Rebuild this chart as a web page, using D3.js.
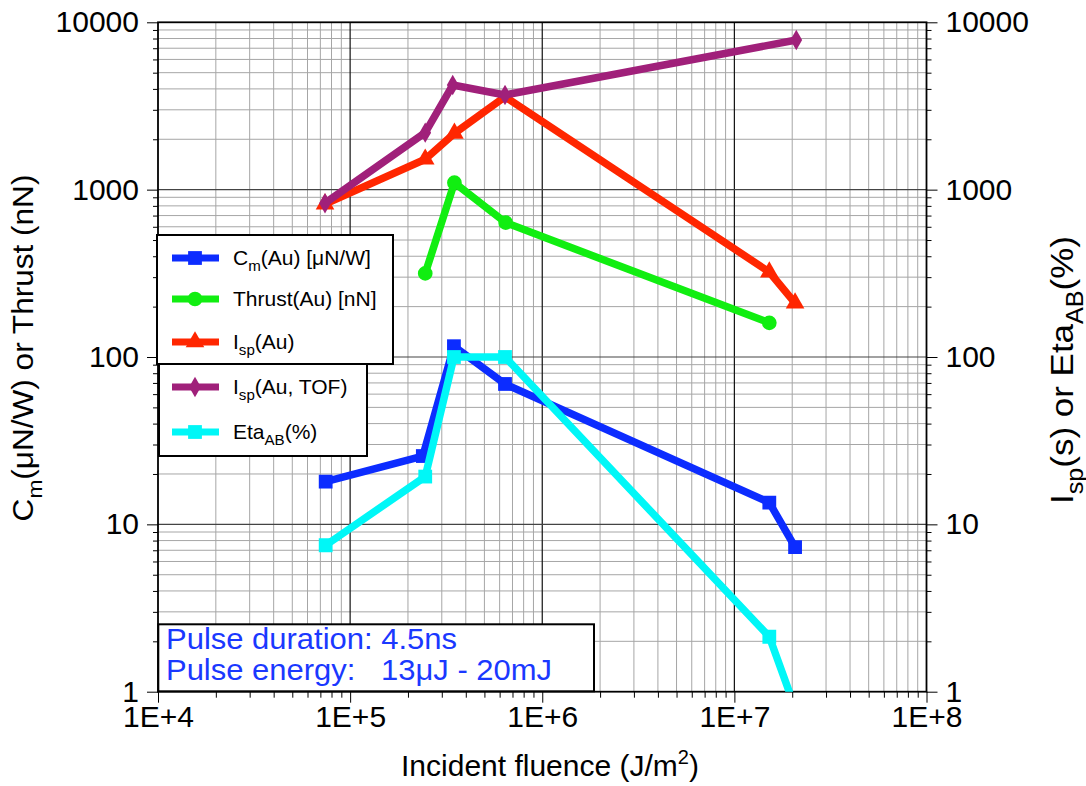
<!DOCTYPE html>
<html>
<head>
<meta charset="utf-8">
<script src="https://cdn.jsdelivr.net/npm/d3@7"></script>
<style>
  body { margin: 0; background: #fff; }
  text { font-family: "Liberation Sans", Arial, Helvetica, sans-serif; }
</style>
</head>
<body>
<script>
// Values (fluence in J/m^2)
var fluenceCm = [7.46e4, 2.39e5, 3.47e5, 6.4e5, 1.52e7, 2.07e7];
var cmValues = [18.0, 25.6, 116, 69, 13.5, 7.3];
var fluenceThrust = [2.46e5, 3.49e5, 6.45e5, 1.52e7];
var thrustValues = [316, 1100, 635, 160];
var fluenceIsp = [7.4e4, 2.46e5, 3.49e5, 6.4e5, 1.52e7, 2.07e7];
var ispValues = [820, 1520, 2170, 3590, 322, 210];
var fluenceTof = [7.4e4, 2.46e5, 3.42e5, 6.4e5, 2.1e7];
var tofValues = [830, 2190, 4220, 3680, 7840];
var fluenceEta = [7.46e4, 2.46e5, 3.47e5, 6.4e5, 1.52e7, 2.07e7];
var etaValues = [7.5, 19.3, 100, 100, 2.13, 0.8];

var xTicks = [1e4, 1e5, 1e6, 1e7, 1e8];
var xTickLabels = ["1E+4", "1E+5", "1E+6", "1E+7", "1E+8"];
var yTicks = [1, 10, 100, 1000, 10000];
var yTickLabels = ["1", "10", "100", "1000", "10000"];

var W = 1086, H = 786;
var pLeft = 158, pRight = 926.5, pTop = 22.3, pBottom = 691.7;

var svg = d3.select("body").append("svg")
  .attr("width", W).attr("height", H);

var x = d3.scaleLog().domain([1e4, 1e8]).range([pLeft, pRight]);
var y = d3.scaleLog().domain([1, 1e4]).range([pBottom, pTop]);

// minor values 2..9 per decade
var minorX = [], minorY = [];
for (var d = 4; d < 8; d++) for (var k = 2; k < 10; k++) minorX.push(k * Math.pow(10, d));
for (var d2 = 0; d2 < 4; d2++) for (var k2 = 2; k2 < 10; k2++) minorY.push(k2 * Math.pow(10, d2));

// grid
var grid = svg.append("g");
grid.selectAll(".gx").data(minorX).enter().append("line")
  .attr("x1", x).attr("x2", x).attr("y1", pTop).attr("y2", pBottom)
  .attr("stroke", "#a6a6a6").attr("stroke-width", 1);
grid.selectAll(".gy").data(minorY).enter().append("line")
  .attr("y1", y).attr("y2", y).attr("x1", pLeft).attr("x2", pRight)
  .attr("stroke", "#a6a6a6").attr("stroke-width", 1);
grid.selectAll(".gX").data(xTicks.slice(1, -1)).enter().append("line")
  .attr("x1", x).attr("x2", x).attr("y1", pTop).attr("y2", pBottom)
  .attr("stroke", "#111").attr("stroke-width", 1.2);
grid.selectAll(".gY").data(yTicks.slice(1, -1)).enter().append("line")
  .attr("y1", y).attr("y2", y).attr("x1", pLeft).attr("x2", pRight)
  .attr("stroke", "#444").attr("stroke-width", 1.2);

// axes
var fmtX = function(v) { return xTickLabels[xTicks.indexOf(v)] || ""; };
var fmtY = function(v) { return yTickLabels[yTicks.indexOf(v)] || ""; };

function styleAxis(g) {
  g.select(".domain").remove();
  g.selectAll(".tick line").attr("stroke", "#000").attr("stroke-width", 1);
  g.selectAll(".tick text").attr("font-size", 30).attr("fill", "#000")
    .style("font-family", "'Liberation Sans', Arial, sans-serif");
}

var allX = xTicks.concat(minorX).sort(d3.ascending);
var allY = yTicks.concat(minorY).sort(d3.ascending);

var gxAxis = svg.append("g").attr("transform", "translate(0," + pBottom + ")")
  .call(d3.axisBottom(x).tickValues(allX).tickFormat(fmtX).tickSize(6).tickPadding(8));
styleAxis(gxAxis);
gxAxis.selectAll(".tick").filter(function(v) { return xTicks.indexOf(v) >= 0; })
  .select("line").attr("y2", 11);

var gyL = svg.append("g").attr("transform", "translate(" + pLeft + ",0)")
  .call(d3.axisLeft(y).tickValues(allY).tickFormat(fmtY).tickSize(5).tickPadding(14));
styleAxis(gyL);
gyL.selectAll(".tick").filter(function(v) { return yTicks.indexOf(v) >= 0; })
  .select("line").attr("x2", -11);

var gyR = svg.append("g").attr("transform", "translate(" + pRight + ",0)")
  .call(d3.axisRight(y).tickValues(allY).tickFormat(fmtY).tickSize(5).tickPadding(14));
styleAxis(gyR);
gyR.selectAll(".tick").filter(function(v) { return yTicks.indexOf(v) >= 0; })
  .select("line").attr("x2", 11);

// frame
svg.append("rect").attr("x", pLeft).attr("y", pTop)
  .attr("width", pRight - pLeft).attr("height", pBottom - pTop)
  .attr("fill", "none").attr("stroke", "#000").attr("stroke-width", 1.8);

// series
svg.append("clipPath").attr("id", "plotclip").append("rect")
  .attr("x", pLeft).attr("y", pTop).attr("width", pRight - pLeft).attr("height", pBottom - pTop);

var series = [
  { xs: fluenceCm, ys: cmValues, color: "#0c2cff", shape: "square" },
  { xs: fluenceThrust, ys: thrustValues, color: "#11ee11", shape: "circle" },
  { xs: fluenceIsp, ys: ispValues, color: "#ff2600", shape: "triangle" },
  { xs: fluenceTof, ys: tofValues, color: "#a0207a", shape: "diamond" },
  { xs: fluenceEta, ys: etaValues, color: "#00f7f7", shape: "square" }
];

var symbols = {
  square: d3.symbol().type(d3.symbolSquare).size(190),
  circle: d3.symbol().type(d3.symbolCircle).size(170),
  triangle: d3.symbol().type(d3.symbolTriangle).size(150),
  diamond: d3.symbol().type(d3.symbolDiamond).size(120)
};

var line = d3.line().x(function(p) { return x(p[0]); }).y(function(p) { return y(p[1]); });
var plot = svg.append("g").attr("clip-path", "url(#plotclip)");

series.forEach(function(s) {
  var pts = s.xs.map(function(v, i) { return [v, s.ys[i]]; });
  plot.append("path").attr("d", line(pts))
    .attr("fill", "none").attr("stroke", s.color).attr("stroke-width", 7.5)
    .attr("stroke-linejoin", "round");
  plot.selectAll(null).data(pts).enter().append("path")
    .attr("d", symbols[s.shape])
    .attr("transform", function(p) { return "translate(" + x(p[0]) + "," + y(p[1]) + ")"; })
    .attr("fill", s.color);
});

// legends
function legendBox(x0, y0, w, h) {
  svg.append("rect").attr("x", x0).attr("y", y0).attr("width", w).attr("height", h)
    .attr("fill", "#fff").attr("stroke", "#000").attr("stroke-width", 2);
}
legendBox(157, 235, 236, 129);
legendBox(159, 364, 208, 92);

var legendItems = [
  { s: 0, y: 258, parts: [["C", 0], ["m", 1], ["(Au) [\u03bcN/W]", 0]] },
  { s: 1, y: 299, parts: [["Thrust(Au) [nN]", 0]] },
  { s: 2, y: 342, parts: [["I", 0], ["sp", 1], ["(Au)", 0]] },
  { s: 3, y: 387, parts: [["I", 0], ["sp", 1], ["(Au, TOF)", 0]] },
  { s: 4, y: 432, parts: [["Eta", 0], ["AB", 1], ["(%)", 0]] }
];

function richText(t, parts, big) {
  var sub = 0;
  parts.forEach(function(p) {
    var ts = t.append("tspan").text(p[0]);
    if (p[1] === 1 && sub === 0) { ts.attr("dy", big * 0.3).attr("font-size", big * 0.72); sub = 1; }
    else if (p[1] === 0 && sub === 1) { ts.attr("dy", -big * 0.3); sub = 0; }
    else if (p[1] === 1) ts.attr("font-size", big * 0.72);
  });
}

legendItems.forEach(function(it) {
  var s = series[it.s];
  svg.append("line").attr("x1", 172).attr("x2", 219).attr("y1", it.y).attr("y2", it.y)
    .attr("stroke", s.color).attr("stroke-width", 7);
  svg.append("path").attr("d", symbols[s.shape])
    .attr("transform", "translate(195," + it.y + ")").attr("fill", s.color);
  var t = svg.append("text").attr("x", 233).attr("y", it.y + 7)
    .attr("font-size", 21).attr("fill", "#000");
  richText(t, it.parts, 21);
});

// annotation box
svg.append("rect").attr("x", 158.3).attr("y", 624.3).attr("width", 435.7).attr("height", 67)
  .attr("fill", "#fff").attr("stroke", "#000").attr("stroke-width", 2);
svg.append("text").attr("x", 166).attr("y", 649).attr("font-size", 29).attr("fill", "#1a38ff")
  .attr("textLength", 291).attr("lengthAdjust", "spacingAndGlyphs")
  .text("Pulse duration: 4.5ns");
svg.append("text").attr("x", 166).attr("y", 680).attr("font-size", 29).attr("fill", "#1a38ff")
  .attr("textLength", 386).attr("lengthAdjust", "spacingAndGlyphs")
  .attr("xml:space", "preserve").style("white-space", "pre")
  .text("Pulse energy:   13\u03bcJ - 20mJ");

// axis titles
var xt = svg.append("text").attr("x", 550).attr("y", 776).attr("text-anchor", "middle")
  .attr("font-size", 30).attr("fill", "#000");
xt.append("tspan").text("Incident fluence (J/m");
xt.append("tspan").text("2").attr("font-size", 20).attr("dy", -12);
xt.append("tspan").text(")").attr("dy", 12);

// vertical titles, squeezed or stretched along their length to the reference span
function vTitle(cx, cy, size, parts, span) {
  var g = svg.append("g");
  var t = g.append("text").attr("text-anchor", "middle").attr("font-size", size).attr("fill", "#000");
  richText(t, parts, size);
  var w = t.node().getBBox().width;
  g.attr("transform", "translate(" + cx + "," + cy + ") rotate(-90) scale(" + (span / w) + ",1)");
}
vTitle(33, 348, 29, [["C", 0], ["m", 1], ["(\u03bcN/W) or Thrust (nN)", 0]], 347);
vTitle(1073, 370, 32, [["I", 0], ["sp", 1], ["(s) or Eta", 0], ["AB", 1], ["(%)", 0]], 268);
</script>
</body>
</html>
